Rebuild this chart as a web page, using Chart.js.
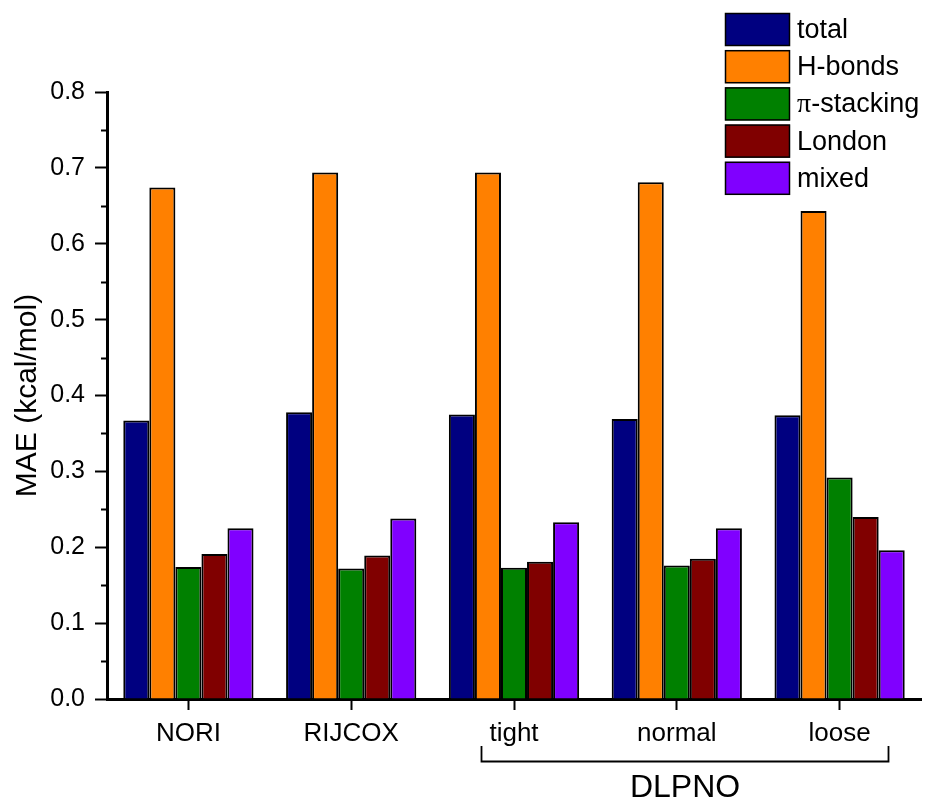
<!DOCTYPE html>
<html>
<head>
<meta charset="utf-8">
<script src="https://cdn.jsdelivr.net/npm/chart.js@4/dist/chart.umd.min.js"></script>
<style>
  html, body { margin: 0; padding: 0; background: #fff; }
  #wrap { width: 932px; height: 803px; }
</style>
</head>
<body>
<div id="wrap"><canvas id="chart" width="932" height="803"></canvas></div>
<script>
const methods = ['NORI', 'RIJCOX', 'tight', 'normal', 'loose'];
const seriesNames = ['total', 'H-bonds', 'π-stacking', 'London', 'mixed'];
const seriesColors = ['#000080', '#FF8000', '#008000', '#800000', '#8000FF'];

const total = [0.367, 0.378, 0.375, 0.369, 0.374];
const hBonds = [0.674, 0.694, 0.694, 0.681, 0.643];
const piStacking = [0.174, 0.172, 0.173, 0.176, 0.292];
const london = [0.191, 0.189, 0.181, 0.185, 0.240];
const mixed = [0.225, 0.238, 0.233, 0.225, 0.196];

const yTicks = [0, 0.1, 0.2, 0.3, 0.4, 0.5, 0.6, 0.7, 0.8];

const SANS = '"Liberation Sans", Arial, sans-serif';
const SERIF = '"Liberation Serif", "Times New Roman", serif';

const seriesValues = [total, hBonds, piStacking, london, mixed];

// minor ticks on the y axis, half way between labels
const minorTicks = {
  id: 'minorTicks',
  afterDraw(chart) {
    const ctx = chart.ctx;
    const y = chart.scales.y;
    const left = chart.chartArea.left;
    ctx.save();
    ctx.strokeStyle = '#000';
    ctx.lineWidth = 2;
    for (let i = 0; i < yTicks.length - 1; i++) {
      const py = Math.round(y.getPixelForValue((yTicks[i] + yTicks[i + 1]) / 2)) + 0.5;
      ctx.beginPath();
      ctx.moveTo(left - 6, py);
      ctx.lineTo(left, py);
      ctx.stroke();
    }
    ctx.restore();
  }
};

// DLPNO bracket under the last three categories
const groupBracket = {
  id: 'groupBracket',
  afterDraw(chart) {
    const ctx = chart.ctx;
    const x = chart.scales.x;
    const catW = x.getPixelForValue(1) - x.getPixelForValue(0);
    const x0 = Math.round(x.getPixelForValue(2) - 0.2 * catW) + 0.5;
    const x1 = Math.round(x.getPixelForValue(4) + 0.3 * catW) + 0.5;
    const top = 746, bot = 761.5;
    ctx.save();
    ctx.strokeStyle = '#000';
    ctx.lineWidth = 1.8;
    ctx.beginPath();
    ctx.moveTo(x0, top);
    ctx.lineTo(x0, bot);
    ctx.lineTo(x1, bot);
    ctx.lineTo(x1, top);
    ctx.stroke();
    ctx.fillStyle = '#000';
    ctx.font = '32px ' + SANS;
    ctx.textAlign = 'center';
    ctx.textBaseline = 'middle';
    ctx.fillText('DLPNO', (x0 + x1) / 2, 788);
    ctx.restore();
  }
};

// legend box in the top-right corner, overlapping the plot
const boxLegend = {
  id: 'boxLegend',
  afterDraw(chart) {
    const ctx = chart.ctx;
    const bx = 725, bw = 65, bh = 33, step = 37.2, top0 = 13;
    ctx.save();
    chart.data.datasets.forEach((ds, i) => {
      const by = top0 + i * step;
      ctx.fillStyle = ds.backgroundColor;
      ctx.fillRect(bx, by, bw, bh);
      ctx.strokeStyle = '#000';
      ctx.lineWidth = 1.5;
      ctx.strokeRect(bx + 0.5, by + 0.5, bw - 1, bh - 1);
      ctx.fillStyle = '#000';
      ctx.textBaseline = 'middle';
      ctx.textAlign = 'left';
      const cy = by + bh / 2 + 1;
      const label = ds.label;
      if (label.startsWith('π')) {
        ctx.font = '28px ' + SERIF;
        ctx.fillText('π', 797, cy);
        const w = ctx.measureText('π').width;
        ctx.font = '27px ' + SANS;
        ctx.fillText(label.slice(1), 797 + w, cy);
      } else {
        ctx.font = '27px ' + SANS;
        ctx.fillText(label, 797, cy);
      }
    });
    ctx.restore();
  }
};

new Chart(document.getElementById('chart'), {
  type: 'bar',
  data: {
    labels: methods,
    datasets: seriesNames.map((name, i) => ({
      label: name,
      data: seriesValues[i],
      backgroundColor: seriesColors[i],
      borderColor: '#000',
      borderWidth: 2,
      categoryPercentage: 0.8,
      barPercentage: 1.0,
    })),
  },
  options: {
    responsive: false,
    animation: false,
    layout: { padding: { top: 92, right: 11, left: 0, bottom: 0 } },
    plugins: {
      legend: { display: false },
      tooltip: { enabled: false },
    },
    scales: {
      x: {
        grid: {
          display: true,
          offset: false,
          drawOnChartArea: false,
          drawTicks: true,
          tickLength: 11,
          tickWidth: 2,
          tickColor: '#000',
        },
        border: { display: true, color: '#000', width: 3 },
        ticks: {
          color: '#000',
          padding: 8,
          font: { family: SANS, size: 26 },
        },
        afterFit(scale) { scale.height = 104; },
      },
      y: {
        min: 0,
        max: 0.8,
        afterBuildTicks(scale) { scale.ticks = yTicks.map(v => ({ value: v })); },
        grid: {
          display: true,
          drawOnChartArea: false,
          drawTicks: true,
          tickLength: 12,
          tickWidth: 2,
          tickColor: '#000',
        },
        border: { display: true, color: '#000', width: 3 },
        ticks: {
          color: '#000',
          padding: 10,
          font: { family: SANS, size: 25 },
          callback: v => Number(v).toFixed(1),
        },
        title: {
          display: true,
          text: 'MAE (kcal/mol)',
          color: '#000',
          font: { family: SANS, size: 30 },
          padding: { top: 10, bottom: 0 },
        },
        afterFit(scale) { scale.width = 107; },
      },
    },
  },
  plugins: [minorTicks, groupBracket, boxLegend],
});
</script>
</body>
</html>
